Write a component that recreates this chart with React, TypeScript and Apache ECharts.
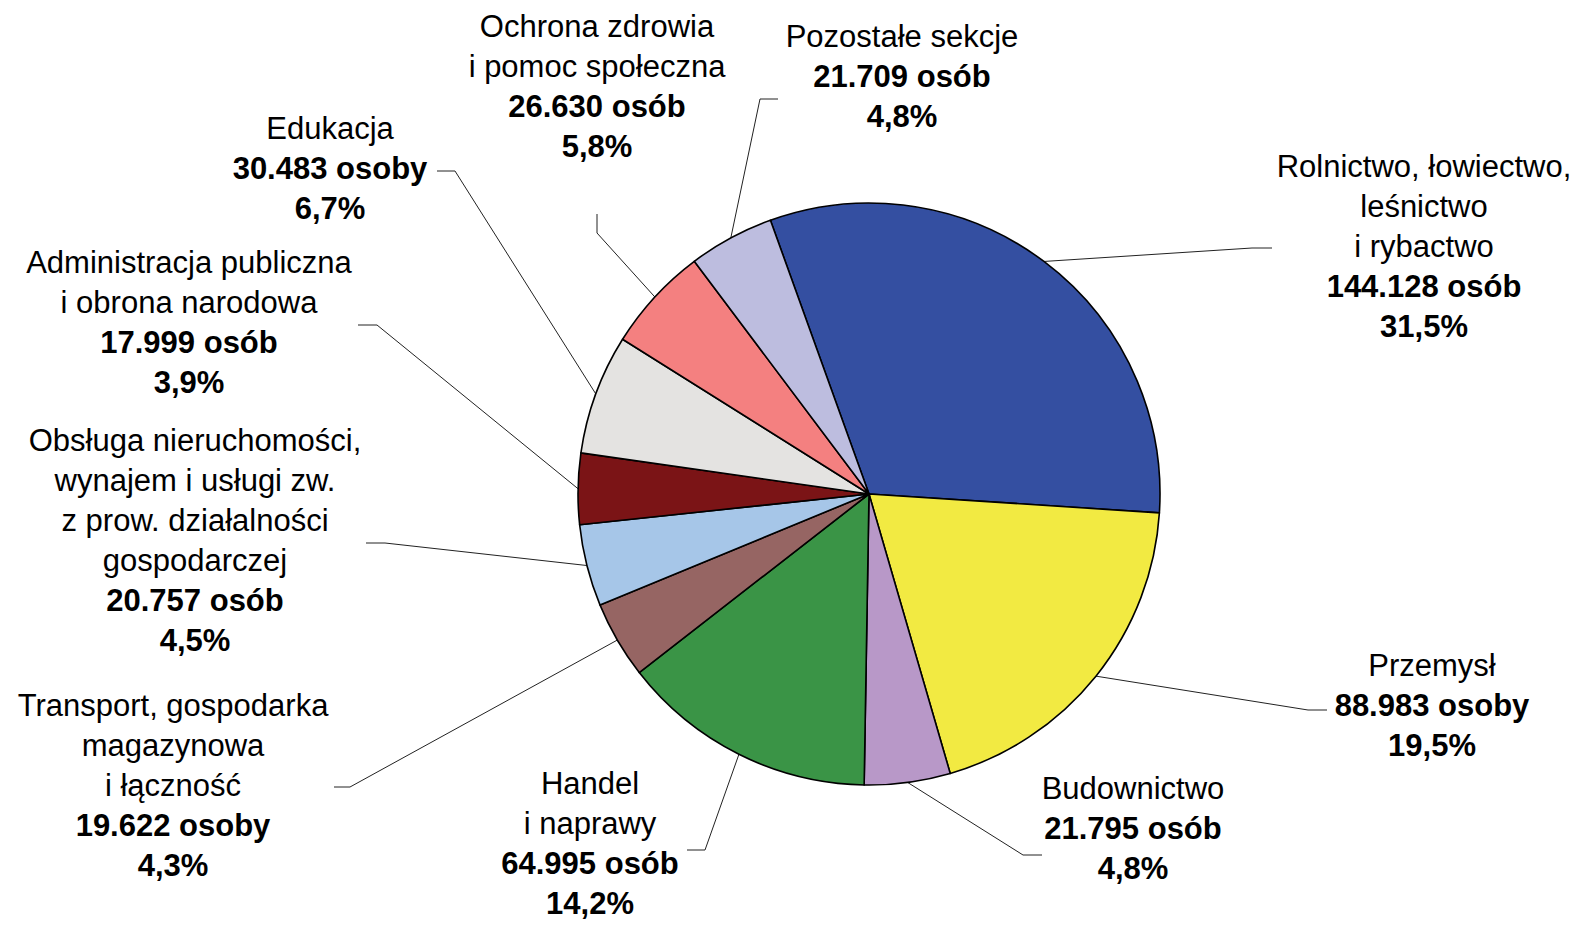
import React, { useEffect, useRef } from "react";
import * as echarts from "echarts";

// ---- data ----
const categoryLines: string[][] = [
  ["Rolnictwo, łowiectwo,", "leśnictwo", "i rybactwo"],
  ["Przemysł"],
  ["Budownictwo"],
  ["Handel", "i naprawy"],
  ["Transport, gospodarka", "magazynowa", "i łączność"],
  ["Obsługa nieruchomości,", "wynajem i usługi zw.", "z prow. działalności", "gospodarczej"],
  ["Administracja publiczna", "i obrona narodowa"],
  ["Edukacja"],
  ["Ochrona zdrowia", "i pomoc społeczna"],
  ["Pozostałe sekcje"],
];
const values: number[] = [144128, 88983, 21795, 64995, 19622, 20757, 17999, 30483, 26630, 21709];
const units: string[] = ["osób", "osoby", "osób", "osób", "osoby", "osób", "osób", "osoby", "osób", "osób"];
const percentLabels: string[] = ["31,5%", "19,5%", "4,8%", "14,2%", "4,3%", "4,5%", "3,9%", "6,7%", "5,8%", "4,8%"];
const colors: string[] = [
  "#344FA1", "#F2EA42", "#B898C8", "#3A9446", "#966563",
  "#A6C6E8", "#7B1416", "#E4E3E1", "#F48080", "#BDBDDF",
];

// ---- layout (positions only) ----
const CX = 869;
const CY = 494;
const R = 291;
const START_ANGLE = 109.8;
const LINE_H = 40;
const FONT = "'Liberation Sans', Arial, Helvetica, sans-serif";
// label block centre x, first line centre y
const labelPos: number[][] = [
  [1424, 166], [1432, 665], [1133, 788], [590, 783], [173, 705],
  [195, 440], [189, 262], [330, 128], [597, 26], [902, 36],
];
// leader line tail: [bend point, end point]
const leaderTails: number[][][] = [
  [[1252, 248], [1272, 248]],
  [[1308, 710], [1327, 710]],
  [[1023, 855], [1042, 855]],
  [[705, 850], [687, 850]],
  [[350, 787], [334, 787]],
  [[385, 543], [366, 543]],
  [[377, 325], [358, 325]],
  [[455, 171], [437, 171]],
  [[597, 233], [597, 214]],
  [[760, 99], [778, 99]],
];

const fmtNumber = (v: number) => v.toString().replace(/\B(?=(\d{3})+(?!\d))/g, ".");

const total = values.reduce((a, b) => a + b, 0);
function edgePoint(i: number): number[] {
  let before = 0;
  for (let k = 0; k < i; k++) before += values[k];
  const mid = ((before + values[i] / 2) / total) * 360;
  const a = ((START_ANGLE - mid) * Math.PI) / 180;
  return [CX + R * Math.cos(a), CY - R * Math.sin(a)];
}

export default function App() {
  const ref = useRef<HTMLDivElement>(null);
  useEffect(() => {
    document.body.style.margin = "0";
    if (!ref.current) return;
    const chart = echarts.init(ref.current, undefined, { renderer: "svg" });
    const textStyleBase = {
      fontFamily: FONT,
      fontSize: 31,
      lineHeight: LINE_H,
      color: "#000",
      align: "center" as const,
    };
    chart.setOption({
      animation: false,
      backgroundColor: "#fff",
      series: [
        {
          type: "pie",
          center: [CX, CY],
          radius: R,
          startAngle: START_ANGLE,
          clockwise: true,
          avoidLabelOverlap: false,
          emphasis: { disabled: true },
          itemStyle: { borderColor: "#000", borderWidth: 1.6 },
          data: values.map((v, i) => ({
            value: v,
            name: categoryLines[i].join(" "),
            itemStyle: { color: colors[i] },
          })),
          label: {
            show: true,
            position: "outside",
            formatter: (p: any) => {
              const i = p.dataIndex;
              return [
                ...categoryLines[i].map((l) => `{n|${l}}`),
                `{b|${fmtNumber(values[i])} ${units[i]}}`,
                `{b|${percentLabels[i]}}`,
              ].join("\n");
            },
            rich: {
              n: { ...textStyleBase },
              b: { ...textStyleBase, fontWeight: "bold" },
            },
          },
          labelLine: {
            show: true,
            smooth: false,
            length: 10,
            length2: 10,
            lineStyle: { color: "#222", width: 1 },
          },
          labelLayout: (params: any) => {
            const i = params.dataIndex;
            const [lx, ly] = labelPos[i];
            const start = edgePoint(i);
            return {
              x: lx,
              y: ly - LINE_H / 2,
              align: "center",
              verticalAlign: "top",
              labelLinePoints: [start, leaderTails[i][0], leaderTails[i][1]],
            };
          },
        },
      ],
    });
    return () => chart.dispose();
  }, []);
  return <div ref={ref} style={{ width: 1576, height: 927 }} />;
}
